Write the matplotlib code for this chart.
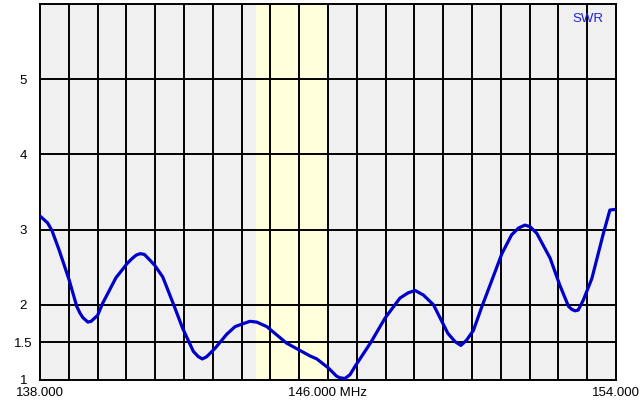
import numpy as np
import matplotlib
matplotlib.use("Agg")
import matplotlib.pyplot as plt

# SWR sweep
freq_mhz = [138.00, 138.21, 138.33, 138.53, 138.81, 139.02, 139.11, 139.19, 139.33, 139.42,
            139.60, 139.74, 140.11, 140.44, 140.57, 140.67, 140.78, 140.90, 141.04, 141.18,
            141.41, 141.73, 141.96, 142.26, 142.40, 142.51, 142.63, 142.86, 143.19, 143.42,
            143.65, 143.83, 144.02, 144.30, 144.85, 145.50, 145.69, 146.01, 146.24, 146.33,
            146.47, 146.61, 146.75, 147.19, 147.58, 148.00, 148.23, 148.42, 148.65, 148.93,
            149.33, 149.53, 149.69, 149.85, 150.04, 150.27, 150.50, 150.83, 151.10, 151.29,
            151.47, 151.61, 151.80, 152.17, 152.44, 152.68, 152.77, 152.86, 152.95, 153.09,
            153.33, 153.65, 153.83, 154.00]
swr = [3.18, 3.09, 2.99, 2.73, 2.33, 1.98, 1.89, 1.83, 1.77, 1.78,
       1.86, 2.02, 2.36, 2.56, 2.62, 2.66, 2.68, 2.67, 2.60, 2.53,
       2.37, 1.98, 1.69, 1.38, 1.31, 1.28, 1.31, 1.42, 1.61, 1.71,
       1.75, 1.78, 1.77, 1.71, 1.49, 1.32, 1.28, 1.16, 1.05, 1.03,
       1.02, 1.07, 1.18, 1.50, 1.82, 2.09, 2.16, 2.19, 2.13, 2.00,
       1.62, 1.51, 1.46, 1.53, 1.66, 1.97, 2.26, 2.68, 2.93, 3.02,
       3.06, 3.04, 2.95, 2.62, 2.26, 1.98, 1.94, 1.92, 1.93, 2.06,
       2.35, 2.95, 3.26, 3.27]

band = (144.0, 146.0)
f_lo, f_hi = 138.0, 154.0
y_ticks = [1, 1.5, 2, 3, 4, 5]
y_labels = ["1", "1.5", "2", "3", "4", "5"]
x_ticks = [138.0, 146.0, 154.0]
x_labels = ["138.000", "146.000 MHz", "154.000"]

plt.rcParams['font.family'] = ['Liberation Sans', 'DejaVu Sans']

fig = plt.figure(figsize=(6.4, 4.0), dpi=100)
ax = fig.add_axes([40/640, 20/400, 576/640, 376/400])
ax.set_facecolor('#f0f0f0')

ax.axvspan(band[0], band[1], color='#ffffdc', zorder=0)

# grid: every 0.8 MHz, and the SWR levels
for xv in np.linspace(f_lo, f_hi, 21)[1:-1]:
    ax.axvline(xv, color='black', lw=1.4, zorder=1)
for yv in [1.5, 2, 3, 4, 5]:
    ax.axhline(yv, color='black', lw=1.4, zorder=1)

ax.plot(freq_mhz, swr, color='#0000c8', lw=2.3, zorder=3,
        solid_joinstyle='round', solid_capstyle='round')

ax.set_xlim(f_lo, f_hi)
ax.set_ylim(1, 6)
for s in ax.spines.values():
    s.set_color('black')
    s.set_linewidth(1.4)

ax.set_yticks(y_ticks)
ax.set_yticklabels(y_labels, fontsize=9.5, ha='center')
ax.set_xticks(x_ticks)
ax.set_xticklabels(x_labels, fontsize=9.5)
ax.tick_params(axis='both', length=0)
ax.tick_params(axis='y', pad=12)
ax.tick_params(axis='x', pad=5)

ax.text(0.952, 0.975, "SWR", transform=ax.transAxes, color='#2020e0',
        fontsize=9.5, ha='center', va='top')

fig.savefig("out.png", dpi=100)
